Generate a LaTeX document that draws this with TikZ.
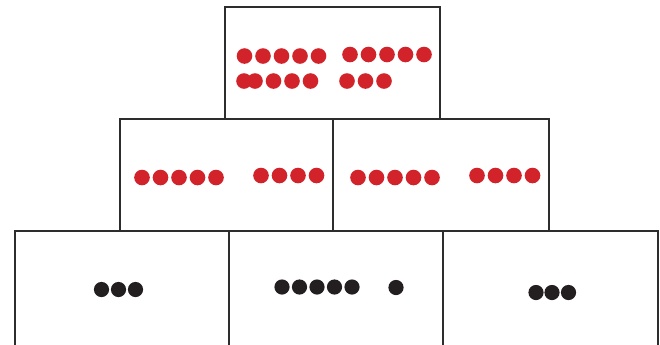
\documentclass[tikz,border=0pt]{standalone}
\usepackage{xcolor}
\usepackage{tikz}
\definecolor{dotred}{RGB}{210,35,43}
\definecolor{dotblack}{RGB}{35,31,32}
\definecolor{edgegray}{RGB}{45,45,45}

\begin{document}
\begin{tikzpicture}[
  x=0.025cm,y=-0.025cm,
  cell/.style={draw=edgegray,line width=0.9pt},
  rdot/.style={fill=dotred},
  kdot/.style={fill=dotblack}
]
  \useasboundingbox (0,0) rectangle (660,344);
  \clip (0,0) rectangle (660,344);
  % top row
  \draw[cell] (225,7) rectangle (440,119);
  % middle row
  \draw[cell] (120,119) rectangle (333,231);
  \draw[cell] (333,119) rectangle (549,231);
  % bottom row
  \draw[cell] (15,231) rectangle (229,360);
  \draw[cell] (229,231) rectangle (443,360);
  \draw[cell] (443,231) rectangle (658,360);

  % red counters, top
  \foreach \x in {244.5,263,281.5,300,318.5} \fill[rdot] (\x,56) circle (0.195cm);
  \foreach \x in {350,368.5,387,405.5,424} \fill[rdot] (\x,54.5) circle (0.195cm);
  \foreach \x in {244,255,273.5,292,310.5} \fill[rdot] (\x,81) circle (0.195cm);
  \foreach \x in {347,365.5,384} \fill[rdot] (\x,81) circle (0.195cm);

  % red counters, middle
  \foreach \x in {142,160.5,179,197.5,216} \fill[rdot] (\x,177.5) circle (0.195cm);
  \foreach \x in {261,279.5,298,316.5} \fill[rdot] (\x,175.5) circle (0.195cm);
  \foreach \x in {358,376.5,395,413.5,432} \fill[rdot] (\x,177.5) circle (0.195cm);
  \foreach \x in {477,495.5,514,532.5} \fill[rdot] (\x,175.5) circle (0.195cm);

  % black counters, bottom
  \foreach \x in {101.5,118.5,135.5} \fill[kdot] (\x,289.5) circle (0.19cm);
  \foreach \x in {282,299.5,317,334.5,352} \fill[kdot] (\x,287) circle (0.19cm);
  \fill[kdot] (396,287.5) circle (0.19cm);
  \foreach \x in {536,552,568.5} \fill[kdot] (\x,292.5) circle (0.19cm);
\end{tikzpicture}
\end{document}
